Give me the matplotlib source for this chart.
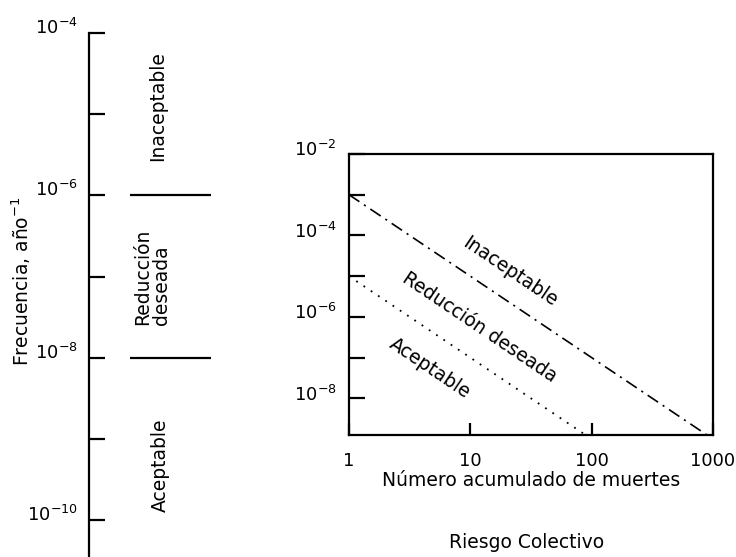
import matplotlib
matplotlib.use("Agg")
import matplotlib.pyplot as plt
import matplotlib.transforms as mtransforms
import numpy as np

plt.rcParams['font.family'] = ['DejaVu Sans']
plt.rcParams['mathtext.fontset'] = 'dejavusans'
plt.rcParams['lines.scale_dashes'] = False

# ---- data ----
# Left panel: individual risk (frequency, 1/year)
left_major_exp = [-4, -6, -8, -10]
left_minor_exp = [-5, -7, -9]
left_bounds = [1e-6, 1e-8]            # boundaries between regions
left_regions = ["Inaceptable", "Reducción\ndeseada", "Aceptable"]
left_region_y = [10**-4.9, 10**-7.0, 10**-9.33]

# Right panel: collective risk F-N criteria
n_deaths = [1, 10, 100, 1000]
x_tick_labels = ["1", "10", "100", "1000"]
right_major_exp = [-2, -4, -6, -8]
right_minor_exp = [-3, -5, -7]
upper_N = [1, 1000]
upper_F = [1e-3, 1e-9]
lower_N = [1, 100]
lower_F = [1e-5, 1e-9]
right_regions = ["Inaceptable", "Reducción deseada", "Aceptable"]
right_region_xy = [(21.2, 10**-4.90), (12.0, 10**-6.25), (4.65, 10**-7.26)]

FS = 13.5
TFS = 13

W, H = 736, 557
fig = plt.figure(figsize=(W/100, H/100), dpi=100)

def fx(px):
    return px / W

def fy(py):
    return 1 - py / H

# ---------------- Left panel ----------------
axL = fig.add_axes([fx(89), 0.0, fx(229) - fx(89), fy(33)])
axL.set_yscale('log')
axL.set_ylim(10**-10.455, 1e-4)
axL.set_xlim(0, 1)
for s in ['top', 'right', 'bottom']:
    axL.spines[s].set_visible(False)
axL.spines['left'].set_linewidth(1.6)
axL.set_xticks([])
axL.set_yticks([10.0**e for e in left_major_exp])
axL.set_yticklabels([f"$10^{{{e}}}$" for e in left_major_exp], fontsize=TFS)
axL.set_yticks([10.0**e for e in left_minor_exp], minor=True)
axL.yaxis.set_minor_formatter(matplotlib.ticker.NullFormatter())
axL.tick_params(axis='y', which='both', direction='in', length=11.5, width=1.6, pad=8)
off = mtransforms.ScaledTranslation(0, 5/72, fig.dpi_scale_trans)
for lab in axL.get_yticklabels():
    lab.set_transform(lab.get_transform() + off)

for b in left_bounds:
    axL.plot([0.293, 0.871], [b, b], color='black', lw=1.6, solid_capstyle='butt')

axL.text(0.49, left_region_y[0], left_regions[0], rotation=90, ha='center', va='center', fontsize=FS)
axL.text(0.45, left_region_y[1], left_regions[1], rotation=90, ha='center', va='center',
         multialignment='left', fontsize=FS, linespacing=1.0)
axL.text(0.51, left_region_y[2], left_regions[2], rotation=90, ha='center', va='center', fontsize=FS)

fig.text(fx(21), fy(281), "Frecuencia, año$^{-1}$", rotation=90, ha='center', va='center', fontsize=FS)

# ---------------- Right panel ----------------
axR = fig.add_axes([fx(349), fy(435), fx(713) - fx(349), fy(154) - fy(435)])
axR.set_xscale('log')
axR.set_yscale('log')
axR.set_xlim(1, 1000)
axR.set_ylim(10**-8.9, 1e-2)
for s in axR.spines.values():
    s.set_linewidth(1.6)

axR.plot(upper_N, upper_F, color='black', lw=1.2, linestyle=(0, (9, 4, 1.5, 4)))
axR.plot(lower_N, lower_F, color='black', lw=1.3, linestyle=(0, (1.3, 5)))

axR.set_xticks(n_deaths)
axR.set_xticklabels(x_tick_labels, fontsize=TFS)
axR.xaxis.set_minor_locator(matplotlib.ticker.NullLocator())
axR.tick_params(axis='x', which='major', direction='in', length=8.5, width=1.6, pad=12)

axR.set_yticks([10.0**e for e in right_major_exp])
axR.set_yticklabels([f"$10^{{{e}}}$" for e in right_major_exp], fontsize=TFS)
axR.set_yticks([10.0**e for e in right_minor_exp], minor=True)
axR.yaxis.set_minor_formatter(matplotlib.ticker.NullFormatter())
axR.tick_params(axis='y', which='both', direction='in', length=11.5, width=1.6, pad=9)
off2 = mtransforms.ScaledTranslation(0, 4/72, fig.dpi_scale_trans)
for lab in axR.get_yticklabels():
    lab.set_transform(lab.get_transform() + off2)

for txt, (xv, yv) in zip(right_regions, right_region_xy):
    axR.text(xv, yv, txt, rotation=-34, ha='center', va='center', fontsize=FS,
             rotation_mode='anchor')

axR.set_xlabel("Número acumulado de muertes", fontsize=FS, labelpad=1)
fig.text(fx(527), fy(543), "Riesgo Colectivo", ha='center', va='center', fontsize=FS)

fig.savefig("out.png", dpi=100)
